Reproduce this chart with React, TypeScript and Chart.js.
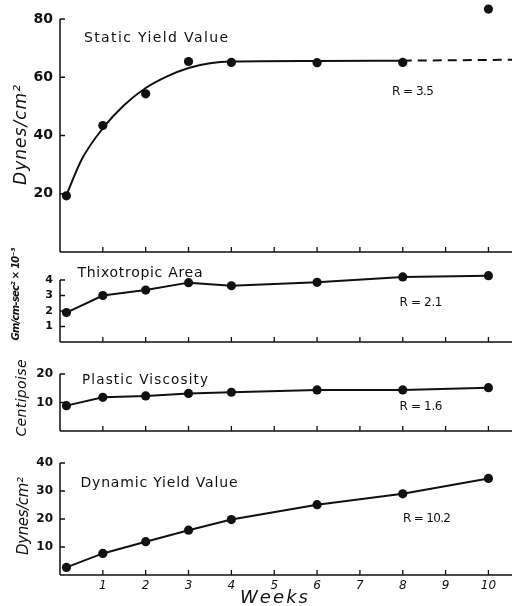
import React, { useEffect, useRef } from "react";
import { Chart, registerables } from "chart.js";

Chart.register(...registerables);

// ---------- data ----------
const WEEKS = [0.15, 1, 2, 3, 4, 6, 8, 10];
const X_TICKS = [1, 2, 3, 4, 5, 6, 7, 8, 9, 10];
const X_MAX = 10.55;

const STATIC_YIELD = [19.3, 43.4, 54.3, 65.4, 65.1, 65.0, 65.1, 83.4];
const STATIC_FIT_WEEKS = [0.15, 0.5, 1, 1.5, 2, 2.5, 3, 3.5, 4, 6, 8];
const STATIC_FIT = [19.5, 31.6, 42.5, 50.5, 56.3, 60.3, 63.2, 64.8, 65.4, 65.6, 65.7];
const STATIC_DASH_WEEKS = [8, 10.55];
const STATIC_DASH = [65.7, 66];
const STATIC_TICKS = [20, 40, 60, 80];

const THIXO_AREA = [1.9, 3.0, 3.35, 3.83, 3.63, 3.85, 4.2, 4.28];
const THIXO_TICKS = [1, 2, 3, 4];

const PLASTIC_VISC = [8.9, 11.8, 12.3, 13.2, 13.6, 14.4, 14.4, 15.2];
const PLASTIC_TICKS = [10, 20];

const DYNAMIC_YIELD = [2.7, 7.7, 11.9, 16.0, 19.8, 25.1, 29.0, 34.5];
const DYNAMIC_TICKS = [10, 20, 30, 40];

const INK = "#111";
const FAMILY = "'DejaVu Sans', sans-serif";
const W = 516;

const zip = (xs: number[], ys: number[]) => xs.map((x, i) => ({ x, y: ys[i] }));

const pointsDs = (xs: number[], ys: number[], showLine: boolean) => ({
  data: zip(xs, ys),
  showLine,
  borderColor: INK,
  borderWidth: 2,
  tension: 0,
  pointRadius: 4.6,
  pointBackgroundColor: INK,
  pointBorderWidth: 0,
  clip: false,
});

const curveDs = (xs: number[], ys: number[], dash: number[]) => ({
  data: zip(xs, ys),
  showLine: true,
  borderColor: INK,
  borderWidth: 2,
  borderDash: dash,
  cubicInterpolationMode: "monotone",
  pointRadius: 0,
  clip: false,
});

type TextItem = {
  text: string;
  cx: number;
  cy: number;
  width: number;
  size: number;
  style?: string;
  weight?: string;
  rotate?: boolean;
};

type PanelCfg = {
  canvasTop: number;
  canvasBottom: number;
  areaTop: number; // page pixel of yAxisTop
  areaBottom: number; // page pixel of 0
  xHeight: number;
  yMax: number;
  yAxisTop: number;
  yTicks: number[];
  yFontSize: number;
  showXLabels: boolean;
  datasets: any[];
  texts: TextItem[];
};

const PANELS: PanelCfg[] = [
  {
    canvasTop: -30,
    canvasBottom: 290,
    areaTop: 19,
    areaBottom: 252,
    xHeight: 0,
    yMax: 86,
    yAxisTop: 80,
    yTicks: STATIC_TICKS,
    yFontSize: 14,
    showXLabels: false,
    datasets: [
      curveDs(STATIC_FIT_WEEKS, STATIC_FIT, []),
      curveDs(STATIC_DASH_WEEKS, STATIC_DASH, [9, 6]),
      pointsDs(WEEKS, STATIC_YIELD, false),
    ],
    texts: [
      { text: "Static Yield Value", cx: 156, cy: 38, width: 144, size: 14 },
      { text: "R = 3.5", cx: 413, cy: 92, width: 42, size: 12 },
      { text: "Dynes/cm²", cx: 22, cy: 135, width: 100, size: 17, style: "italic", rotate: true },
    ],
  },
  {
    canvasTop: 240,
    canvasBottom: 380,
    areaTop: 280,
    areaBottom: 342,
    xHeight: 0,
    yMax: 4,
    yAxisTop: 4,
    yTicks: THIXO_TICKS,
    yFontSize: 11,
    showXLabels: false,
    datasets: [pointsDs(WEEKS, THIXO_AREA, true)],
    texts: [
      { text: "Thixotropic Area", cx: 140, cy: 273, width: 125, size: 14 },
      { text: "R = 2.1", cx: 421, cy: 303, width: 43, size: 12 },
      { text: "Gm/cm-sec² × 10⁻³", cx: 16, cy: 294, width: 93, size: 10, style: "italic", weight: "bold", rotate: true },
    ],
  },
  {
    canvasTop: 348,
    canvasBottom: 465,
    areaTop: 374,
    areaBottom: 431,
    xHeight: 0,
    yMax: 20,
    yAxisTop: 20,
    yTicks: PLASTIC_TICKS,
    yFontSize: 12,
    showXLabels: false,
    datasets: [pointsDs(WEEKS, PLASTIC_VISC, true)],
    texts: [
      { text: "Plastic Viscosity", cx: 145, cy: 380, width: 126, size: 13.5 },
      { text: "R = 1.6", cx: 421, cy: 407, width: 43, size: 12 },
      { text: "Centipoise", cx: 22, cy: 398, width: 77, size: 14, style: "italic", rotate: true },
    ],
  },
  {
    canvasTop: 436,
    canvasBottom: 606,
    areaTop: 463,
    areaBottom: 575,
    xHeight: 31,
    yMax: 40,
    yAxisTop: 40,
    yTicks: DYNAMIC_TICKS,
    yFontSize: 12,
    showXLabels: true,
    datasets: [pointsDs(WEEKS, DYNAMIC_YIELD, true)],
    texts: [
      { text: "Dynamic Yield Value", cx: 159, cy: 483, width: 157, size: 14 },
      { text: "R = 10.2", cx: 427, cy: 519, width: 48, size: 12 },
      { text: "Dynes/cm²", cx: 24, cy: 516, width: 78, size: 15, style: "italic", rotate: true },
      { text: "Weeks", cx: 274, cy: 598, width: 68, size: 18, style: "italic" },
    ],
  },
];

const decorPlugin = {
  id: "decor",
  afterDraw(chart: any, _args: any, opts: any) {
    const cfg: PanelCfg = opts.cfg;
    const ctx = chart.ctx;
    const xs = chart.scales.x;
    const ys = chart.scales.y;
    const y0 = ys.getPixelForValue(0);
    const x0 = xs.getPixelForValue(0);
    ctx.save();
    ctx.strokeStyle = INK;
    // axis lines
    ctx.lineWidth = 1.5;
    ctx.beginPath();
    ctx.moveTo(x0, y0);
    ctx.lineTo(x0, ys.getPixelForValue(cfg.yAxisTop));
    ctx.moveTo(x0, y0);
    ctx.lineTo(xs.getPixelForValue(X_MAX), y0);
    ctx.stroke();
    // inward tick marks
    ctx.lineWidth = 1.3;
    ctx.beginPath();
    X_TICKS.forEach((v) => {
      const px = xs.getPixelForValue(v);
      ctx.moveTo(px, y0);
      ctx.lineTo(px, y0 - 5);
    });
    cfg.yTicks.forEach((v) => {
      const py = ys.getPixelForValue(v);
      ctx.moveTo(x0, py);
      ctx.lineTo(x0 + 5, py);
    });
    ctx.stroke();

    ctx.fillStyle = INK;
    ctx.textAlign = "left";
    ctx.textBaseline = "middle";
    cfg.texts.forEach((t) => {
      ctx.font = `${t.style || "normal"} ${t.weight || "normal"} ${t.size}px ${FAMILY}`;
      (ctx as any).letterSpacing = "0px";
      const natural = ctx.measureText(t.text).width;
      const n = Array.from(t.text).length;
      const ls = n > 1 ? (t.width - natural) / (n - 1) : 0;
      (ctx as any).letterSpacing = `${ls}px`;
      ctx.save();
      ctx.translate(t.cx, t.cy - cfg.canvasTop);
      if (t.rotate) ctx.rotate(-Math.PI / 2);
      ctx.fillText(t.text, -t.width / 2, 0);
      ctx.restore();
    });
    (ctx as any).letterSpacing = "0px";
    ctx.restore();
  },
};

function Panel({ cfg }: { cfg: PanelCfg }) {
  const ref = useRef<HTMLCanvasElement | null>(null);
  const height = cfg.canvasBottom - cfg.canvasTop;
  useEffect(() => {
    if (!ref.current) return;
    const perUnit = (cfg.areaBottom - cfg.areaTop) / cfg.yAxisTop;
    const padTop = cfg.areaTop - cfg.canvasTop - (cfg.yMax - cfg.yAxisTop) * perUnit;
    const padBottom = cfg.canvasBottom - cfg.areaBottom - cfg.xHeight;
    const chart = new Chart(ref.current, {
      type: "line",
      data: { datasets: cfg.datasets },
      plugins: [decorPlugin],
      options: {
        animation: false,
        responsive: false,
        layout: {
          autoPadding: false,
          padding: { top: padTop, right: 4, bottom: padBottom, left: 0 },
        },
        plugins: {
          legend: { display: false },
          tooltip: { enabled: false },
          decor: { cfg },
        } as any,
        scales: {
          x: {
            type: "linear",
            display: cfg.showXLabels,
            min: 0,
            max: X_MAX,
            afterBuildTicks: (s: any) => {
              s.ticks = X_TICKS.map((v) => ({ value: v }));
            },
            afterFit: (s: any) => {
              s.height = cfg.xHeight;
            },
            grid: { display: false, drawTicks: false },
            border: { display: false },
            ticks: {
              display: cfg.showXLabels,
              padding: 4,
              color: INK,
              maxRotation: 0,
              autoSkip: false,
              font: { family: FAMILY, size: 12, style: "italic" },
            },
          },
          y: {
            type: "linear",
            min: 0,
            max: cfg.yMax,
            afterBuildTicks: (s: any) => {
              s.ticks = cfg.yTicks.map((v) => ({ value: v }));
            },
            afterFit: (s: any) => {
              s.width = 60;
            },
            grid: { display: false, drawTicks: false },
            border: { display: false },
            ticks: {
              padding: 7,
              color: INK,
              font: { family: FAMILY, size: cfg.yFontSize, weight: "bold" },
            },
          },
        },
      } as any,
    });
    return () => chart.destroy();
  }, [cfg]);
  return (
    <canvas
      ref={ref}
      width={W}
      height={height}
      style={{ position: "absolute", left: 0, top: cfg.canvasTop, width: W, height }}
    />
  );
}

export default function App() {
  return (
    <div
      style={{
        position: "fixed",
        left: 0,
        top: 0,
        width: W,
        height: 606,
        background: "#fff",
        overflow: "hidden",
      }}
    >
      {PANELS.map((p, i) => (
        <Panel key={i} cfg={p} />
      ))}
    </div>
  );
}
